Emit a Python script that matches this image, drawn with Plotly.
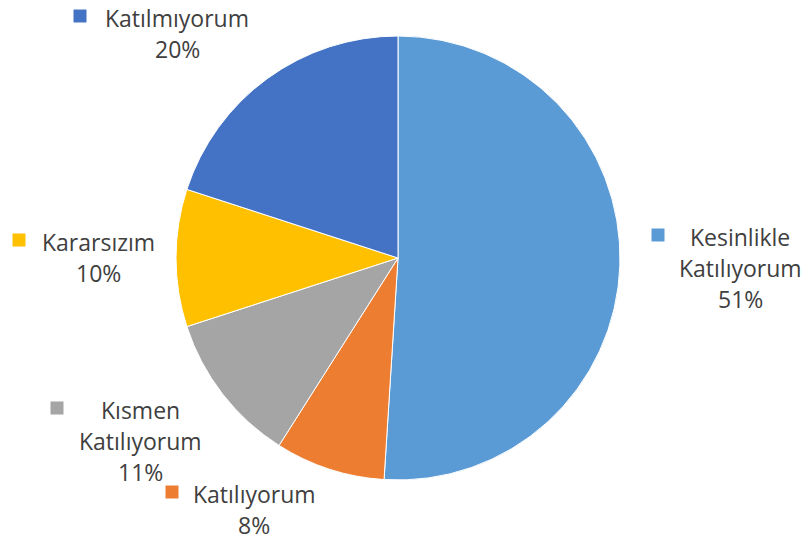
import plotly.graph_objects as go

W, H = 809, 541

# ---- data ----
categories = ["Kesinlikle Katılıyorum", "Katılıyorum", "Kısmen Katılıyorum", "Kararsızım", "Katılmıyorum"]
values = [51, 8, 11, 10, 20]
colors = ["#5B9BD5", "#ED7D31", "#A5A5A5", "#FFC000", "#4472C4"]
label_lines = [
    ["Kesinlikle", "Katılıyorum"],
    ["Katılıyorum"],
    ["Kısmen", "Katılıyorum"],
    ["Kararsızım"],
    ["Katılmıyorum"],
]

# ---- label layout (pixel positions: text block center x, first line y, square x) ----
label_center_x = [740, 254, 140, 98, 177]
label_first_y = [237, 494, 410, 242, 18]
square_x = [658, 172, 57, 19, 80]
line_gap = 31
font_family = "'Open Sans', sans-serif"
font_size = 23
text_color = "#404040"

total = sum(values)

fig = go.Figure(go.Pie(
    labels=categories,
    values=values,
    sort=False,
    direction="clockwise",
    rotation=0,
    marker=dict(colors=colors, line=dict(color="white", width=1)),
    textinfo="none",
    hoverinfo="label+percent",
    showlegend=False,
    domain=dict(x=[176 / W, 620 / W], y=[1 - 481 / H, 1 - 35 / H]),
))

annotations = []
shapes = []
for i, cat in enumerate(categories):
    pct = f"{round(values[i] / total * 100)}%"
    lines = label_lines[i] + [pct]
    for j, ln in enumerate(lines):
        y = label_first_y[i] + j * line_gap
        annotations.append(dict(
            x=label_center_x[i] / W, y=1 - y / H, xref="paper", yref="paper",
            text=ln, showarrow=False, xanchor="center", yanchor="middle",
            font=dict(family=font_family, size=font_size, color=text_color),
        ))
    sy = label_first_y[i] - 2
    shapes.append(dict(
        type="rect", xref="paper", yref="paper",
        x0=(square_x[i] - 6.5) / W, x1=(square_x[i] + 6.5) / W,
        y0=1 - (sy + 6.5) / H, y1=1 - (sy - 6.5) / H,
        fillcolor=colors[i], line=dict(width=0),
    ))

fig.update_layout(
    width=W, height=H,
    margin=dict(l=0, r=0, t=0, b=0),
    paper_bgcolor="white", plot_bgcolor="white",
    annotations=annotations, shapes=shapes,
)

fig.write_html("out.html", config={"displayModeBar": False},
               post_script="document.body.style.margin='0';document.body.style.overflow='hidden';")
